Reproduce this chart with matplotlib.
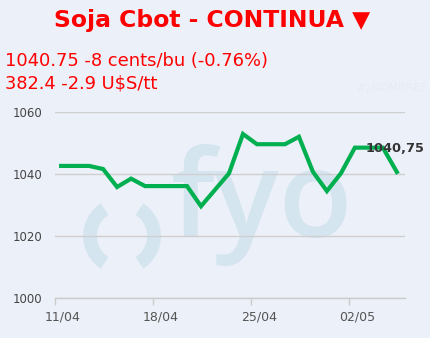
import matplotlib
matplotlib.use("Agg")
import matplotlib.pyplot as plt
from matplotlib.patches import Arc
from matplotlib.transforms import ScaledTranslation
import pandas as pd

# ---- data ----
start = pd.Timestamp("2022-04-11")
day_offsets = [0, 1, 2, 3, 4, 5, 6, 7, 8, 9, 10, 12, 13, 14, 15, 16, 17, 18, 19, 20, 21, 22, 23, 24]
values = [1042.7, 1042.7, 1042.7, 1041.7, 1035.9, 1038.6, 1036.2, 1036.2, 1036.2, 1036.2,
          1029.7, 1040.3, 1053.0, 1049.7, 1049.7, 1049.7, 1052.1, 1040.8, 1034.6, 1040.3,
          1048.6, 1048.6, 1048.6, 1040.75]
x_tick_dates = ["2022-04-11", "2022-04-18", "2022-04-25", "2022-05-02"]
x_tick_labels = ["11/04", "18/04", "25/04", "02/05"]
y_ticks = [1000, 1020, 1040, 1060]
title = "Soja Cbot - CONTINUA \u25BC"
line1 = "1040.75 -8 cents/bu (-0.76%)"
line2 = "382.4 -2.9 U$S/tt"
last_label = "1040,75"

dates = [start + pd.Timedelta(days=d, hours=10) for d in day_offsets]

BG = "#ECF0F8"
W, H = 431, 338
fig = plt.figure(figsize=(W / 100, H / 100), dpi=100, facecolor=BG)

# background / watermark layer in pixel coords
bg = fig.add_axes([0, 0, 1, 1], zorder=0)
bg.set_xlim(0, W)
bg.set_ylim(H, 0)
bg.axis("off")
wm = "#D5E5F0"
bg.text(171, 237, "fyo", fontsize=87, family="Open Sans", fontweight="semibold",
        color=wm, ha="left", va="baseline")
bg.add_patch(Arc((122, 236), 64, 64, theta1=123, theta2=237, color=wm, lw=10))
bg.add_patch(Arc((122, 236), 64, 64, theta1=-57, theta2=57, color=wm, lw=10))
bg.text(426, 88, "#\u00bfNOMBRE?", fontsize=8, color="#E6EBF4", ha="right", va="center")

# texts
fig.text(212.5 / W, 1 - 20 / H, title, ha="center", va="center", fontsize=16.9,
         fontweight="bold", color="#FF0000")
fig.text(5 / W, 1 - 61 / H, line1, ha="left", va="center", fontsize=12.9, color="#FF0000")
fig.text(5 / W, 1 - 84 / H, line2, ha="left", va="center", fontsize=12.9, color="#FF0000")

# main plot
left, right = 55.3, 405
top, bottom = 112.3, 298.3
ax = fig.add_axes([left / W, 1 - bottom / H, (right - left) / W, (bottom - top) / H], zorder=1)
ax.set_facecolor("none")
ax.plot(dates, values, color="#00AF50", lw=3.0, solid_joinstyle="miter", zorder=3)
ax.set_xlim(start, start + pd.Timedelta(days=25))
ax.set_ylim(1000, 1060)

for s in ["top", "right", "left"]:
    ax.spines[s].set_visible(False)
ax.spines["bottom"].set_color("#CCCCCC")
ax.spines["bottom"].set_linewidth(1)

ax.set_yticks(y_ticks)
ax.set_yticklabels([str(v) for v in y_ticks])
ax.tick_params(axis="y", length=0, pad=9.5, labelsize=8.5, labelcolor="#444444")
ax.yaxis.grid(True, color="#CFCFCF", lw=1)
ax.set_axisbelow(True)

ax.set_xticks([pd.Timestamp(d) for d in x_tick_dates])
ax.set_xticklabels(x_tick_labels)
ax.tick_params(axis="x", length=5, width=1, color="#CCCCCC", pad=4, labelsize=9,
               labelcolor="#555555", direction="out")
for lbl in ax.get_xticklabels():
    lbl.set_transform(lbl.get_transform() + ScaledTranslation(7.7 / 100, 0, fig.dpi_scale_trans))

ax.annotate(last_label, xy=(366 / W, 1 - 149 / H), xycoords="figure fraction",
            ha="left", va="center", fontsize=9.3, fontweight="bold", color="#333333",
            zorder=5, annotation_clip=False)

fig.savefig("out.png", dpi=100, facecolor=BG)
